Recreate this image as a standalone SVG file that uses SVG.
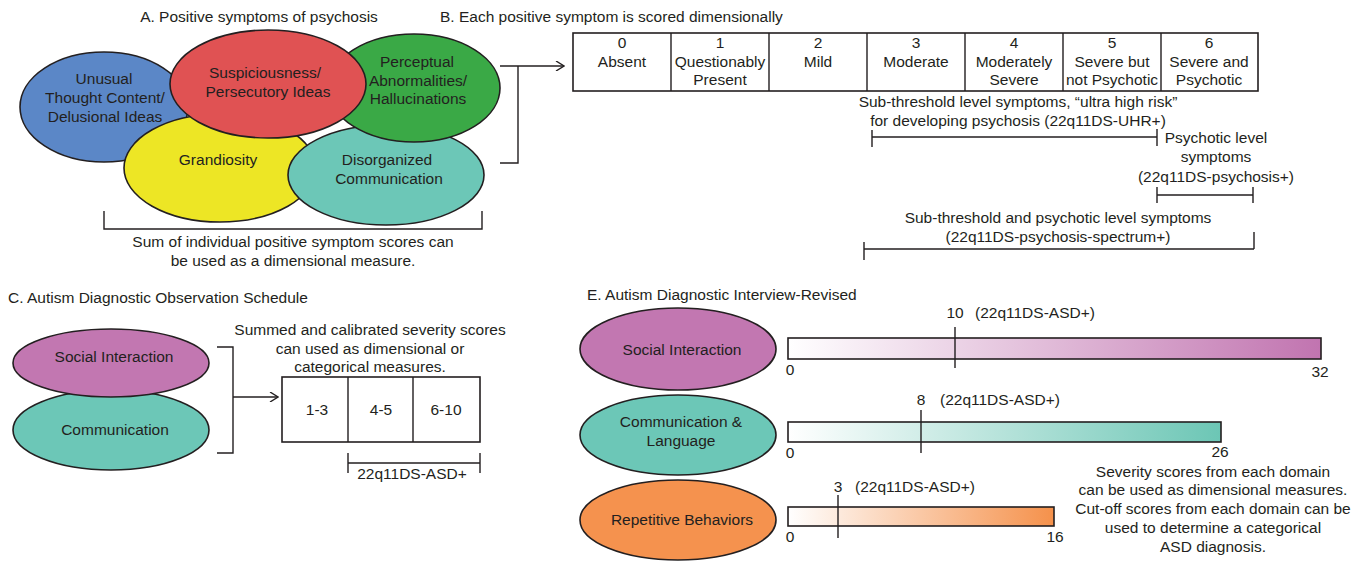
<svg xmlns="http://www.w3.org/2000/svg" width="1369" height="561" viewBox="0 0 1369 561">
<style>
text{font-family:"Liberation Sans",Arial,sans-serif;font-size:15.5px;fill:#231f20}
.c{text-anchor:middle}
.e{stroke:#231f20;stroke-width:1.6}
.ln{stroke:#231f20;stroke-width:1.4;fill:none}
.box{fill:#fff;stroke:#231f20;stroke-width:1.6}
</style>
<defs>
<marker id="ah" viewBox="0 0 10 10" refX="9" refY="5" markerWidth="10" markerHeight="10" markerUnits="userSpaceOnUse" orient="auto"><path d="M1,0 L9,5 L1,10" fill="none" stroke="#231f20" stroke-width="1.4"/></marker>
<linearGradient id="gp" x1="0" x2="1" y1="0" y2="0"><stop offset="0" stop-color="#fff"/><stop offset="1" stop-color="#c174b0"/></linearGradient>
<linearGradient id="gt" x1="0" x2="1" y1="0" y2="0"><stop offset="0" stop-color="#fff"/><stop offset="1" stop-color="#6cc6b5"/></linearGradient>
<linearGradient id="go" x1="0" x2="1" y1="0" y2="0"><stop offset="0" stop-color="#fff"/><stop offset="1" stop-color="#f5914b"/></linearGradient>
</defs>
<rect width="1369" height="561" fill="#fff"/>

<!-- Panel A -->
<text x="259" y="22" class="c">A. Positive symptoms of psychosis</text>
<g id="blue"><ellipse cx="104" cy="107" rx="84" ry="55" fill="#5b87c7" class="e"/>
<text x="104" y="84" class="c">Unusual</text><text x="105" y="103" class="c">Thought Content/</text><text x="105" y="122" class="c">Delusional Ideas</text></g>
<g id="yellow"><ellipse cx="220" cy="168" rx="96" ry="54" fill="#ede625" class="e"/>
<text x="218" y="165" class="c">Grandiosity</text></g>
<g id="teal"><ellipse cx="386" cy="175" rx="98" ry="50" fill="#6cc7b7" class="e"/>
<text x="387" y="165" class="c">Disorganized</text><text x="389" y="184" class="c">Communication</text></g>
<g id="green"><ellipse cx="414" cy="88" rx="86" ry="54" fill="#3aa946" class="e"/>
<text x="417" y="67" class="c">Perceptual</text><text x="418" y="86" class="c">Abnormalities/</text><text x="418" y="104" class="c">Hallucinations</text></g>
<g id="red"><ellipse cx="268" cy="84" rx="98" ry="54" fill="#e05253" class="e"/>
<text x="265" y="78" class="c">Suspiciousness/</text><text x="268" y="97" class="c">Persecutory Ideas</text></g>
<text x="293" y="247" class="c">Sum of individual positive symptom scores can</text>
<text x="293" y="266" class="c">be used as a dimensional measure.</text>

<!-- Panel B -->
<text x="440" y="22">B. Each positive symptom is scored dimensionally</text>
<g id="scale-b">
<rect x="573" y="33" width="685" height="58" class="box"/>
<path d="M671,33V91M769,33V91M867,33V91M965,33V91M1063,33V91M1161,33V91" class="ln"/>
<text x="622" y="48" class="c">0</text><text x="622" y="67" class="c">Absent</text>
<text x="720" y="48" class="c">1</text><text x="720" y="67" class="c">Questionably</text><text x="720" y="85" class="c">Present</text>
<text x="818" y="48" class="c">2</text><text x="818" y="67" class="c">Mild</text>
<text x="916" y="48" class="c">3</text><text x="916" y="67" class="c">Moderate</text>
<text x="1014" y="48" class="c">4</text><text x="1014" y="67" class="c">Moderately</text><text x="1014" y="85" class="c">Severe</text>
<text x="1112" y="48" class="c">5</text><text x="1112" y="67" class="c">Severe but</text><text x="1112" y="85" class="c">not Psychotic</text>
<text x="1209" y="48" class="c">6</text><text x="1209" y="67" class="c">Severe and</text><text x="1209" y="85" class="c">Psychotic</text>
</g>
<text x="1018" y="107" class="c">Sub-threshold level symptoms, “ultra high risk”</text>
<text x="1018" y="126" class="c">for developing psychosis (22q11DS-UHR+)</text>
<text x="1216" y="143" class="c">Psychotic level</text>
<text x="1216" y="162" class="c">symptoms</text>
<text x="1216" y="182" class="c">(22q11DS-psychosis+)</text>
<text x="1058" y="223" class="c">Sub-threshold and psychotic level symptoms</text>
<text x="1058" y="242" class="c">(22q11DS-psychosis-spectrum+)</text>

<!-- Panel C -->
<text x="8" y="303">C. Autism Diagnostic Observation Schedule</text>
<g id="c-comm"><ellipse cx="111" cy="430" rx="98" ry="40" fill="#6cc7b7" class="e"/><text x="115" y="435" class="c">Communication</text></g>
<g id="c-social"><ellipse cx="111" cy="363" rx="98" ry="34" fill="#c277b1" class="e"/><text x="114" y="362" class="c">Social Interaction</text></g>
<text x="370" y="335" class="c">Summed and calibrated severity scores</text>
<text x="370" y="354" class="c">can used as dimensional or</text>
<text x="370" y="372" class="c">categorical measures.</text>
<g id="scale-c">
<rect x="282" y="377" width="198" height="65" class="box"/>
<path d="M348,377V442M413,377V442" class="ln"/>
<text x="317" y="415" class="c">1-3</text><text x="381" y="415" class="c">4-5</text><text x="446" y="415" class="c">6-10</text>
</g>
<text x="412" y="479" class="c">22q11DS-ASD+</text>

<!-- Panel E -->
<text x="587" y="300">E. Autism Diagnostic Interview-Revised</text>
<g id="e-social"><ellipse cx="678" cy="349" rx="98" ry="41" fill="#c277b1" class="e"/><text x="682" y="355" class="c">Social Interaction</text></g>
<g id="e-comm"><ellipse cx="678" cy="435" rx="98" ry="40" fill="#6cc7b7" class="e"/><text x="681" y="427" class="c">Communication &amp;</text><text x="681" y="446" class="c">Language</text></g>
<g id="e-rep"><ellipse cx="678" cy="520" rx="98" ry="40" fill="#f5924e" class="e"/><text x="682" y="525" class="c">Repetitive Behaviors</text></g>

<g id="bar-social"><rect x="788" y="338" width="533" height="21" fill="url(#gp)" class="e"/>
<text x="955" y="318" class="c">10</text><text x="975" y="318">(22q11DS-ASD+)</text>
<text x="790" y="375" class="c">0</text><text x="1320" y="377" class="c">32</text></g>
<g id="bar-comm"><rect x="788" y="422" width="433" height="20" fill="url(#gt)" class="e"/>
<text x="921" y="405" class="c">8</text><text x="940" y="405">(22q11DS-ASD+)</text>
<text x="790" y="458" class="c">0</text><text x="1220" y="457" class="c">26</text></g>
<g id="bar-rep"><rect x="788" y="507" width="266" height="19" fill="url(#go)" class="e"/>
<text x="838" y="492" class="c">3</text><text x="855" y="492">(22q11DS-ASD+)</text>
<text x="790" y="542" class="c">0</text><text x="1055" y="542" class="c">16</text></g>
<text x="1213" y="477" class="c">Severity scores from each domain</text>
<text x="1213" y="495" class="c">can be used as dimensional measures.</text>
<text x="1213" y="514" class="c">Cut-off scores from each domain can be</text>
<text x="1213" y="533" class="c">used to determine a categorical</text>
<text x="1213" y="552" class="c">ASD diagnosis.</text>

<g id="connectors">
<path d="M104,211V229H482V211" class="ln"/>
<path d="M500,163H518V66" class="ln"/>
<path d="M500,66H564" class="ln" marker-end="url(#ah)"/>
<path d="M872,130V147M872,137H1157M1157,129V146" class="ln"/>
<path d="M1157,187V203M1157,195H1253M1253,187V203" class="ln"/>
<path d="M864,242V260M864,249H1254M1254,232V249" class="ln"/>
<path d="M217,347H233V453H217" class="ln"/>
<path d="M233,397H278" class="ln" marker-end="url(#ah)"/>
<path d="M348,453V473M348,463H480M480,453V473" class="ln"/>
<path d="M955,327V368M921,410V453M838,495V538" class="ln"/>
</g>
</svg>
